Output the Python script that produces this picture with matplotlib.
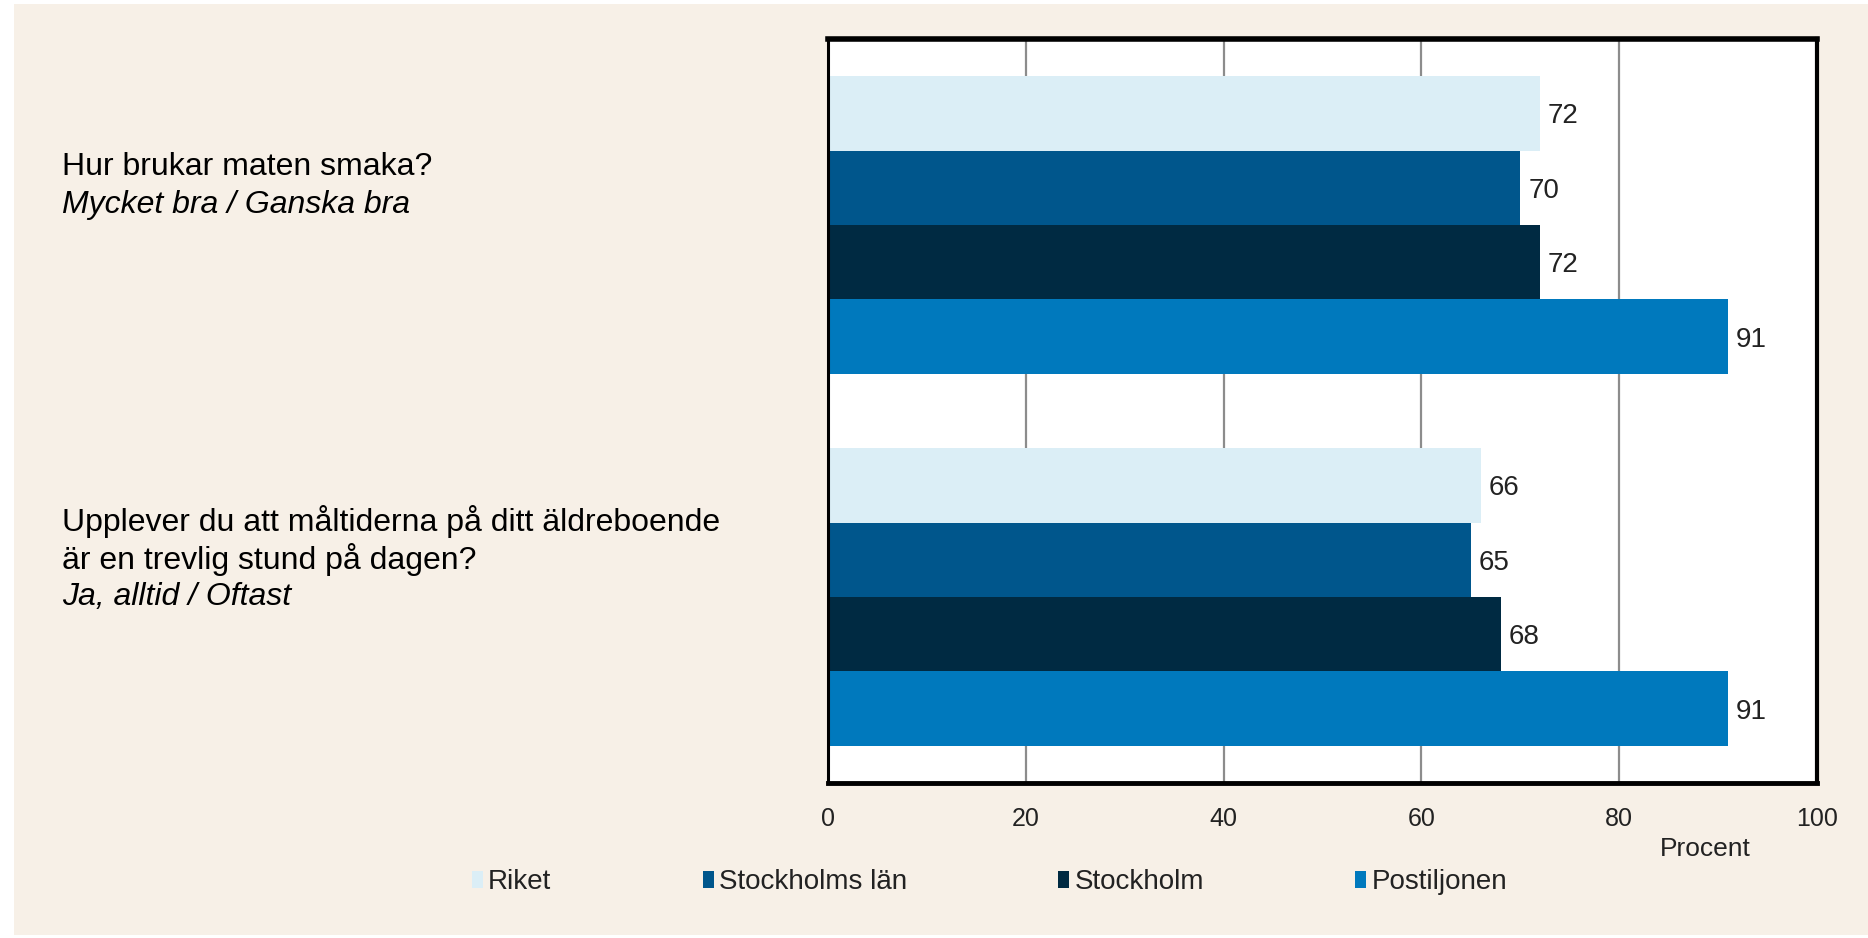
import matplotlib
matplotlib.use("Agg")
import matplotlib.pyplot as plt
from matplotlib.patches import Rectangle
import numpy as np

questions = [
    ("Hur brukar maten smaka?", "Mycket bra / Ganska bra"),
    ("Upplever du att måltiderna på ditt äldreboende\när en trevlig stund på dagen?", "Ja, alltid / Oftast"),
]
series = ["Riket", "Stockholms län", "Stockholm", "Postiljonen"]
values = {
    "Riket": [72, 66],
    "Stockholms län": [70, 65],
    "Stockholm": [72, 68],
    "Postiljonen": [91, 91],
}
colors = ["#DBEEF6", "#00568C", "#002A42", "#0079BD"]
xticks = [0, 20, 40, 60, 80, 100]

NARROW = ["Liberation Sans Narrow", "Liberation Sans", "DejaVu Sans"]
REG = ["Liberation Sans", "DejaVu Sans"]

W, H = 1868, 938
fig = plt.figure(figsize=(W / 100, H / 100), dpi=100, facecolor="white")
# beige panel
fig.patches.append(Rectangle((14 / W, 0.003), 1 - 14 / W, 1 - 4 / H - 0.003,
                             transform=fig.transFigure, facecolor="#F7F0E7",
                             edgecolor="none", zorder=-5))

ax = fig.add_axes([828 / W, 1 - 783 / H, (1817 - 828) / W, (783 - 39) / H])
ax.set_zorder(2)
ax.set_facecolor("white")

group_gap = 5
handles = []
for j, (name, col) in enumerate(zip(series, colors)):
    ys = [i * group_gap + j for i in range(len(questions))]
    b = ax.barh(ys, values[name], height=1.0, color=col, edgecolor="none",
                zorder=3, label=name)
    handles.append(b)
    for y, v in zip(ys, values[name]):
        ax.text(v + 0.8, y, f"{v}", va="center_baseline", ha="left", fontsize=20,
                family=NARROW, color="#222222", zorder=4)

ax.set_xlim(0, 100)
ax.set_ylim(group_gap * len(questions) - 1, -1)
ax.set_xticks(xticks)
ax.set_xticklabels([str(t) for t in xticks], fontsize=18, family=NARROW,
                   color="#222222")
ax.tick_params(axis="x", length=0, pad=17)
ax.set_yticks([])
ax.grid(axis="x", color="#8C8C8C", linewidth=1.6, zorder=1)
ax.set_axisbelow(True)
for side, lw in [("top", 4.0), ("bottom", 3.5), ("left", 2.2), ("right", 3.0)]:
    ax.spines[side].set_color("black")
    ax.spines[side].set_linewidth(lw)
    ax.spines[side].set_zorder(5)

fig.text(1705 / W, 1 - 849 / H, "Procent", ha="center", va="center",
         fontsize=19, family=NARROW, color="#222222")

# question labels
line_px = 38
q_centers = [167, 521]
for (q, a), yc in zip(questions, q_centers):
    lines = q.split("\n")
    for k, ln in enumerate(lines):
        fig.text(62 / W, 1 - (yc + k * line_px) / H, ln, ha="left", va="center",
                 fontsize=23, family=REG, color="black")
    fig.text(62 / W, 1 - (yc + len(lines) * line_px) / H, a, ha="left",
             va="center", fontsize=23, family=REG, style="italic", color="black")

leg = fig.legend(handles=handles, labels=series, ncol=4, loc="center left",
                 bbox_to_anchor=(472 / W, 1 - 882 / H), frameon=False,
                 prop={"family": NARROW, "size": 20}, handlelength=0.4,
                 handleheight=0.55, handletextpad=0.18, columnspacing=5.45,
                 borderaxespad=0, borderpad=0)
for t in leg.get_texts():
    t.set_color("#222222")

fig.savefig("out.png", dpi=100, facecolor=fig.get_facecolor())
